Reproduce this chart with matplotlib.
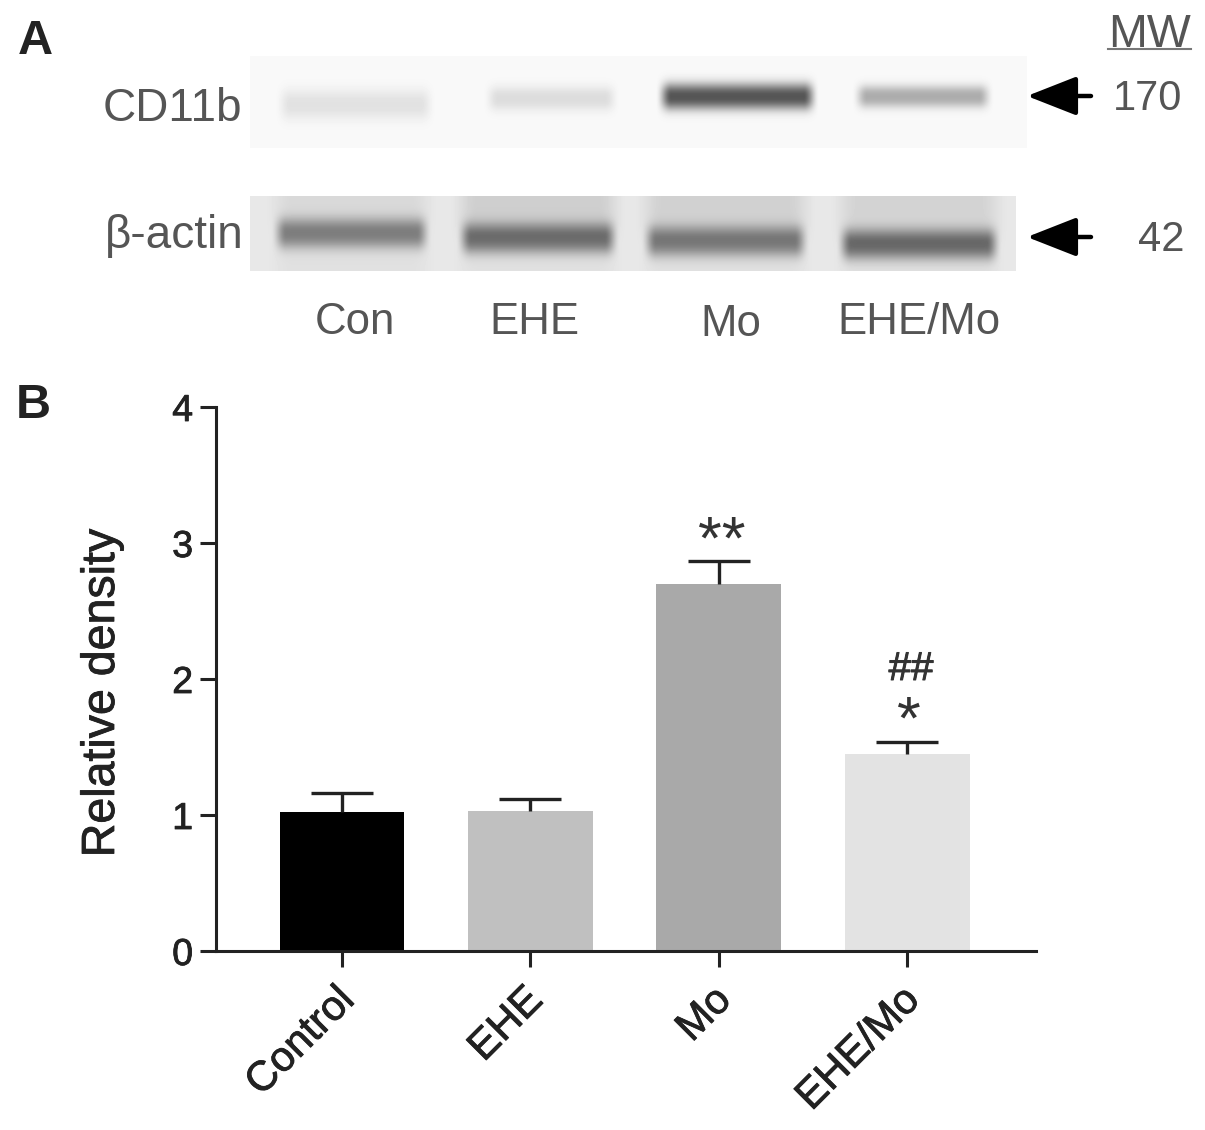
import numpy as np
from matplotlib import pyplot as plt
from matplotlib import patheffects as pe
from matplotlib.transforms import ScaledTranslation

plt.rcParams["font.family"] = ["Liberation Sans", "DejaVu Sans"]

groups = ["Control", "EHE", "Mo", "EHE/Mo"]
means = [1.02, 1.03, 2.70, 1.45]
upperErr = [0.14, 0.09, 0.17, 0.09]
barColors = ["#000000", "#c0c0c0", "#a9a9a9", "#e3e3e3"]
yTicks = [0, 1, 2, 3, 4]
blotLanes = ["Con", "EHE", "Mo", "EHE/Mo"]

# band strength read from the blot, 0 = white, 1 = black
cd11bDark = [0.09, 0.11, 0.64, 0.30]
actinDark = [0.38, 0.44, 0.40, 0.46]
actinHaze = [0.03, 0.07, 0.06, 0.05]


def softEdge(xx, x0, x1, ramp):
    e = np.clip((xx - x0) / ramp, 0, 1) * np.clip((x1 - xx) / ramp, 0, 1)
    return e * e * (3 - 2 * e)


def blotImage(x0, x1, y0, y1, base, lanes, darks):
    yy, xx = np.mgrid[y0:y1, x0:x1]
    img = np.full(xx.shape, base, dtype=float)
    for (a, b, yc, hh), d in zip(lanes, darks):
        img -= d * softEdge(xx, a, b, 16) * np.exp(-np.abs((yy - yc) / hh) ** 2.4)
    return img, xx, yy


fig = plt.figure(figsize=(12.05, 11.3), dpi=100)

# overlay in pixel coordinates for panel A and the letters
over = fig.add_axes([0, 0, 1, 1])
over.axis("off")

cd11b, _, _ = blotImage(250, 1027, 56, 148, 0.975,
                        [(274, 436, 104, 15), (482, 620, 98, 12), (655, 819, 96, 13), (851, 994, 96, 11)],
                        cd11bDark)
over.imshow(np.clip(cd11b, 0, 1), cmap="gray", vmin=0, vmax=1, extent=(250, 1027, 148, 56),
            interpolation="bilinear", aspect="auto")

actinLanes = [(270, 432, 233, 15), (455, 620, 238, 15), (640, 810, 241, 15), (835, 1002, 244, 15)]
actin, xx, yy = blotImage(250, 1016, 196, 271, 0.91, actinLanes, actinDark)
for (a, b, yc, hh), s in zip(actinLanes, actinHaze):
    # faint haze above each band, inside the lane
    haze = np.clip((yc + 5 - yy) / 20, 0, 1)
    actin -= (0.03 + s * haze) * softEdge(xx, a - 8, b + 8, 30)
over.imshow(np.clip(actin, 0, 1), cmap="gray", vmin=0, vmax=1, extent=(250, 1016, 271, 196),
            interpolation="bilinear", aspect="auto")
over.set_xlim(0, 1205)
over.set_ylim(1130, 0)

labelColor = "#555555"
over.text(242, 109, "CD11b", fontsize=33, color=labelColor, ha="right", va="center")
over.text(244, 236, "β-actin", fontsize=33, color=labelColor, ha="right", va="center")
for name, xp, yp in zip(blotLanes, [355, 534, 731, 919], [323, 323, 324, 323]):
    over.text(xp, yp, name, fontsize=31.5, color=labelColor, ha="center", va="center")
over.text(1149, 35, "MW", fontsize=33.5, color=labelColor, ha="center", va="center")
over.plot([1108, 1191], [49, 49], color="#777777", lw=1.5)
over.text(1148, 99, "170", fontsize=30, color=labelColor, ha="center", va="center")
over.text(1161, 240, "42", fontsize=30, color=labelColor, ha="center", va="center")

for yp in [96, 237]:
    over.annotate("", xy=(1027, yp), xytext=(1091, yp),
                  arrowprops=dict(arrowstyle="-|>,head_length=1.4,head_width=0.55",
                                  color="black", lw=3.2, mutation_scale=22,
                                  shrinkA=0, shrinkB=0))

over.text(35, 42, "A", fontsize=35, fontweight="bold", color="#222222", ha="center", va="center")
over.text(33, 406, "B", fontsize=35, fontweight="bold", color="#222222", ha="center", va="center")

# panel B bars
left = 216 / 1205
right = 1036 / 1205
bottom = 1 - 951 / 1130
top = 1 - 407 / 1130
ax = fig.add_axes([left, bottom, right - left, top - bottom])
ax.patch.set_alpha(0)
xs = np.arange(len(groups))
ax.bar(xs, means, width=0.663, color=barColors)
_, caps, _ = ax.errorbar(xs, means, yerr=[np.zeros(len(means)), upperErr], fmt="none",
                         ecolor="#222222", elinewidth=2.4, capsize=22, capthick=2.4)
caps[0].set_visible(False)
ax.set_xlim(-0.669, 3.684)
ax.set_ylim(0, 4)
ax.set_yticks(yTicks)
ax.set_xticks(xs)

thick = [pe.withStroke(linewidth=0.6, foreground="#222222")]
ax.set_xticklabels(groups, rotation=45, ha="right", rotation_mode="anchor",
                   fontsize=30, color="#222222", path_effects=thick)
ax.tick_params(axis="y", labelsize=27, length=11.5, width=2.2, color="#222222",
               labelcolor="#222222", pad=5)
ax.tick_params(axis="x", length=11.5, width=2.2, color="#222222", pad=8)
# tick_params resets the label transform, so shift only after it
shift = ScaledTranslation(-8 / 100, -2 / 100, fig.dpi_scale_trans)
for lab in ax.get_xticklabels():
    lab.set_transform(lab.get_transform() + shift)
for lab in ax.get_yticklabels():
    lab.set_path_effects(thick)
ax.set_ylabel("Relative density", fontsize=33.5, color="#222222", path_effects=thick)
ax.yaxis.set_label_coords((124 - 216) / 820, (951 - 693) / 544)

ax.spines["top"].set_visible(False)
ax.spines["right"].set_visible(False)
ax.spines["left"].set_linewidth(2.2)
ax.spines["bottom"].set_linewidth(2.2)
ax.spines["left"].set_color("#222222")
ax.spines["bottom"].set_color("#222222")

over.text(722, 543, "**", fontsize=44, color="#333333", ha="center", va="center")
over.text(909, 723, "*", fontsize=44, color="#333333", ha="center", va="center")
over.text(911, 669, "##", fontsize=29, color="#333333", ha="center", va="center",
          path_effects=[pe.withStroke(linewidth=0.7, foreground="#333333")])

fig.savefig("out.png", dpi=100)
